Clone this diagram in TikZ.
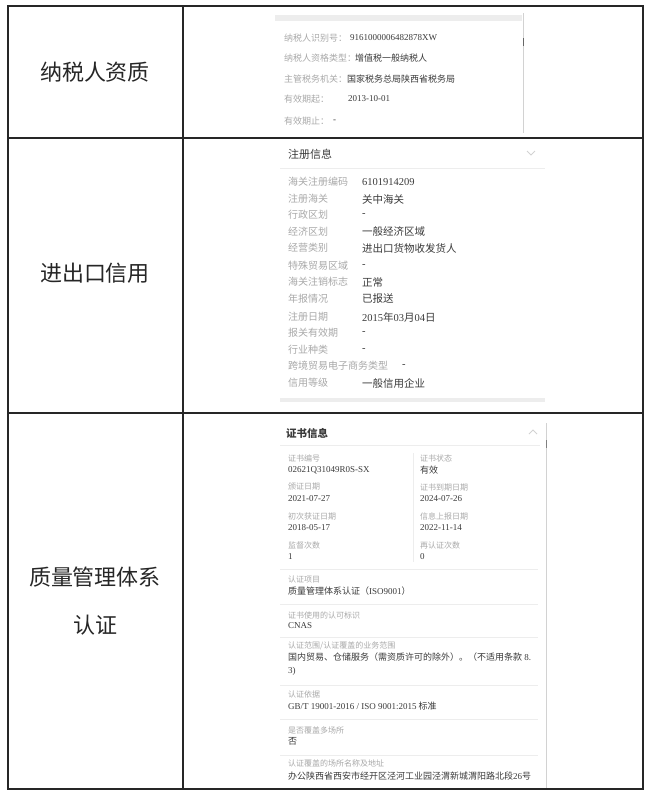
\documentclass[tikz,border=0pt]{standalone}
\usepackage{fontspec}
\setmainfont{Liberation Serif}
\newfontfamily\cjk{Noto Sans CJK SC}
\newcommand{\lat}[1]{{\rmfamily #1}}
\usepackage{tikz}

\definecolor{lblgray}{HTML}{A8A8A8}
\definecolor{valgray}{HTML}{3A3A3A}
\definecolor{rulegray}{HTML}{EDEDED}
\definecolor{scrollgray}{HTML}{D2D2D2}

\tikzset{
    grid/.style={line width=1.2pt,draw=black!85},
    cell/.style={inner sep=0pt,text=black!85,font=\cjk\fontsize{22}{48}\selectfont},
    lbl/.style={anchor=west,inner sep=0pt,text=lblgray},
    val/.style={anchor=west,inner sep=0pt,text=valgray},
    lblA/.style={lbl,font=\cjk\fontsize{9}{10}\selectfont},
    valA/.style={val,font=\cjk\fontsize{9}{10}\selectfont},
    lblB/.style={lbl,font=\cjk\fontsize{10}{11}\selectfont},
    valB/.style={val,font=\cjk\fontsize{10.5}{12}\selectfont},
    lblC/.style={lbl,font=\cjk\fontsize{8}{9}\selectfont},
    valC/.style={val,font=\cjk\fontsize{9}{13}\selectfont},
    head/.style={anchor=west,inner sep=0pt,text=valgray,font=\cjk\fontsize{11}{12}\selectfont},
    rule/.style={draw=rulegray,line width=0.8pt},
    scroll/.style={draw=scrollgray,line width=1pt},
    chev/.style={draw=scrollgray,line width=0.8pt}
}

\begin{document}
\begin{tikzpicture}[x=1pt,y=-1pt]
    \useasboundingbox (0,0) rectangle (651,796);

    % table frame
    \draw[grid] (8,6) rectangle (643,789);
    \draw[grid] (183,6) -- (183,789);
    \draw[grid] (8,138) -- (643,138) (8,413) -- (643,413);

    % left column
    \node[cell] (tax) at (95,72) {纳税人资质};
    \node[cell] (trade) at (95,273) {进出口信用};
    \node[cell,align=center] (iso) at (95,601) {质量管理体系\\认证};

    % taxpayer screenshot
    \fill[rulegray] (275,15) rectangle (522,21);
    \draw[scroll] (523,13) -- (523,133);
    \draw[draw=black!60,line width=1pt] (523,38) -- (523,46);
    \foreach \y/\k/\vx/\v [count=\i] in {
        38/纳税人识别号：/350/\lat{9161000006482878XW},
        58/纳税人资格类型：/355/增值税一般纳税人,
        79/主管税务机关：/347/国家税务总局陕西省税务局,
        99/有效期起：/348/\lat{2013-10-01},
        121/有效期止：/333/\lat{-}}{
        \node[lblA] (a\i) at (284,\y) {\k};
        \node[valA] (av\i) at (\vx,\y) {\v};
    }

    % customs screenshot
    \node[head] (reg) at (288,154) {注册信息};
    \draw[chev] (527,151) -- (531,155) -- (535,151);
    \draw[rule] (280,168) -- (545,168);
    \foreach \y/\k/\vx/\v [count=\i] in {
        182/海关注册编码/362/\lat{6101914209},
        199/注册海关/362/关中海关,
        215/行政区划/362/\lat{-},
        232/经济区划/362/一般经济区域,
        248/经营类别/362/进出口货物收发货人,
        266/特殊贸易区域/362/\lat{-},
        282/海关注销标志/362/正常,
        299/年报情况/362/已报送,
        317/注册日期/362/\lat{2015}年\lat{03}月\lat{04}日,
        333/报关有效期/362/\lat{-},
        350/行业种类/362/\lat{-},
        366/跨境贸易电子商务类型/402/\lat{-},
        383/信用等级/362/一般信用企业}{
        \node[lblB] (b\i) at (288,\y) {\k};
        \node[valB] (bv\i) at (\vx,\y) {\v};
    }
    \fill[rulegray] (280,398) rectangle (545,402);

    % certificate screenshot
    \node[head,font=\cjk\bfseries\fontsize{10.5}{12}\selectfont] (cert) at (286,433) {证书信息};
    \draw[chev] (529,434) -- (533,430) -- (537,434);
    \draw[rule] (280,445) -- (540,445);
    \draw[scroll] (546,423) -- (546,788);
    \draw[draw=black!50,line width=1pt] (546,440) -- (546,448);
    \draw[rule] (413,453) -- (413,562);
    \foreach \y/\ka/\va/\kb/\vb [count=\i] in {
        458/证书编号/\lat{02621Q31049R0S-SX}/证书状态/有效,
        487/颁证日期/\lat{2021-07-27}/证书到期日期/\lat{2024-07-26},
        516/初次获证日期/\lat{2018-05-17}/信息上报日期/\lat{2022-11-14},
        545/监督次数/\lat{1}/再认证次数/\lat{0}}{
        \node[lblC] (c\i) at (288,\y) {\ka};
        \node[valC] (cv\i) at (288,\y+12) {\va};
        \node[lblC] (d\i) at (420,\y) {\kb};
        \node[valC] (dv\i) at (420,\y+12) {\vb};
    }
    \foreach \y in {569,604,637,685,719,755}
        \draw[rule] (280,\y) -- (538,\y);
    \node[lblC] (e1) at (288,579) {认证项目};
    \node[valC] (ev1) at (288,591) {质量管理体系认证（\lat{ISO9001}）};
    \node[lblC] (e2) at (288,615) {证书使用的认可标识};
    \node[valC] (ev2) at (288,626) {\lat{CNAS}};
    \node[lblC] (e3) at (288,646) {认证范围\slash 认证覆盖的业务范围};
    \node[valC,anchor=north west,align=left] (ev3) at (288,653) {国内贸易、仓储服务（需资质许可的除外）。（不适用条款\lat{ 8.}\\\lat{3)}};
    \node[lblC] (e4) at (288,694) {认证依据};
    \node[valC] (ev4) at (288,706) {\lat{GB\slash T 19001-2016 / ISO 9001:2015} 标准};
    \node[lblC] (e5) at (288,730) {是否覆盖多场所};
    \node[valC] (ev5) at (288,741) {否};
    \node[lblC] (e6) at (288,763) {认证覆盖的场所名称及地址};
    \node[valC] (ev6) at (288,776) {办公陕西省西安市经开区泾河工业园泾渭新城渭阳路北段\lat{26}号};
\end{tikzpicture}
\end{document}
